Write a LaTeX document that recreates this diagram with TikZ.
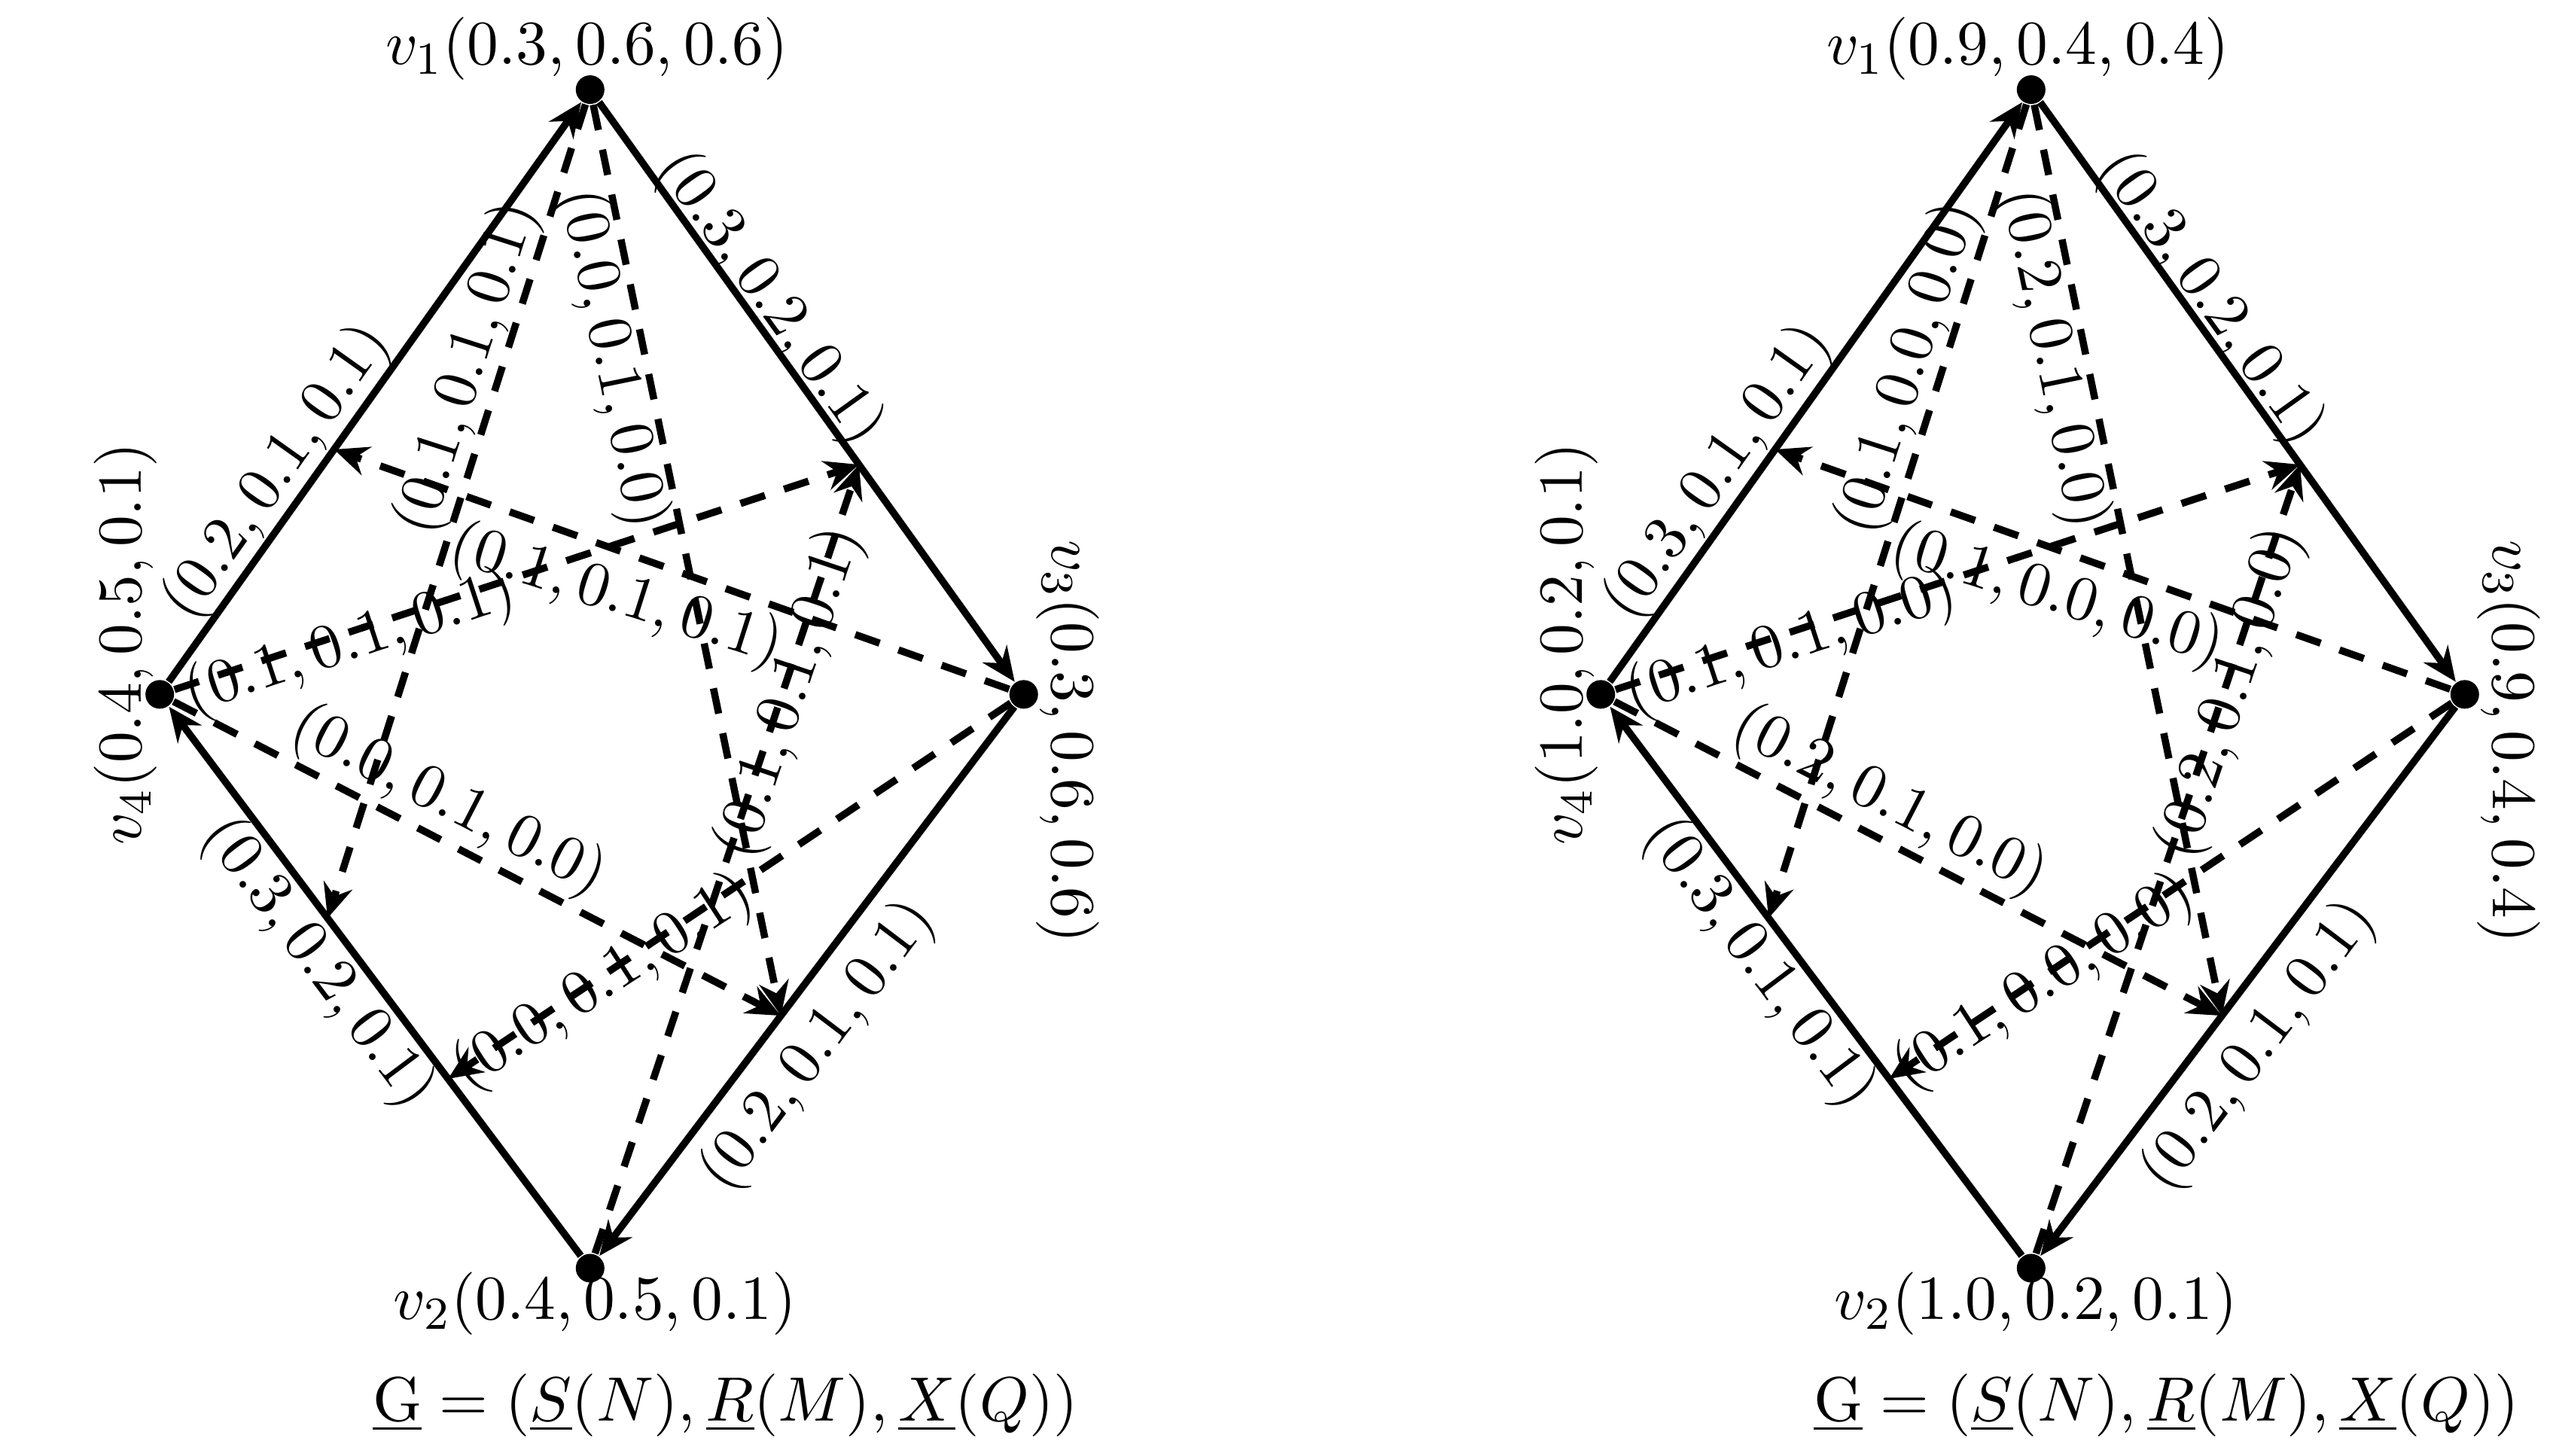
\documentclass[tikz,border=0pt]{standalone}
\usetikzlibrary{arrows.meta,calc}
\tikzset{
  vtx/.style={circle,fill,inner sep=0pt,minimum size=5pt},
  sol/.style={line width=1.25pt,-{Stealth[length=6pt,width=5.2pt,inset=2pt]}},
  dsh/.style={line width=1.25pt,dash pattern=on 4.5pt off 3.5pt,-{Stealth[length=6pt,width=5.2pt,inset=2pt]}},
  lab/.style={font=\fontsize{11}{13}\selectfont,inner sep=0pt}
}
\begin{document}
\begin{tikzpicture}
\useasboundingbox (0,0) rectangle (15.68,-8.93);
% ---------- left graph
\node[vtx] (a1) at (3.62,-0.55) {};
\node[vtx] (a2) at (3.62,-7.78) {};
\node[vtx] (a3) at (6.28,-4.26) {};
\node[vtx] (a4) at (0.98,-4.26) {};
\coordinate (ap41) at ($(a4)!0.405!(a1)$);
\coordinate (ap13) at ($(a1)!0.62!(a3)$);
\coordinate (ap42) at ($(a4)!0.39!(a2)$);
\coordinate (ap42b) at ($(a4)!0.67!(a2)$);
\coordinate (ap32) at ($(a3)!0.56!(a2)$);
\draw[sol] (a4) -- (a1);
\draw[sol] (a1) -- (a3);
\draw[sol] (a3) -- (a2);
\draw[sol] (a2) -- (a4);
\draw[dsh] (a1) -- (ap42);
\draw[dsh] (a1) -- (ap32);
\draw[dsh] (a3) -- (ap41);
\draw[dsh] (a4) -- (ap13);
\draw[dsh] (a4) -- (ap32);
\draw[dsh] (a3) -- (ap42b);
\draw[dsh] (a2) -- (ap13);
\node[lab] (aL1) at (3.60,-0.30) {$v_1(0.3,0.6,0.6)$};
\node[lab] (aL2) at (3.65,-8.00) {$v_2(0.4,0.5,0.1)$};
\node[lab,rotate=-90] (aL3) at (6.55,-4.55) {$v_3(0.3,0.6,0.6)$};
\node[lab,rotate=90] (aL4) at (0.77,-3.95) {$v_4(0.4,0.5,0.1)$};
\node[lab,rotate=54.6] (aE41) at (1.70,-2.90) {$(0.2,0.1,0.1)$};
\node[lab,rotate=-54.4] (aE13) at (4.72,-1.83) {$(0.3,0.2,0.1)$};
\node[lab,rotate=-53.1] (aE24) at (1.95,-5.91) {$(0.3,0.2,0.1)$};
\node[lab,rotate=52.9] (aE32) at (5.02,-6.42) {$(0.2,0.1,0.1)$};
\node[lab,rotate=72.2] (aD1) at (2.87,-2.26) {$(0.1,0.1,0.1)$};
\node[lab,rotate=-78.4] (aD2) at (3.75,-2.20) {$(0.0,0.1,0.0)$};
\node[lab,rotate=-17.6] (aD3) at (3.78,-3.66) {$(0.1,0.1,0.1)$};
\node[lab,rotate=18.2] (aD4) at (2.15,-3.95) {$(0.1,0.1,0.1)$};
\node[lab,rotate=-27.3] (aD5) at (2.75,-4.92) {$(0.0,0.1,0.0)$};
\node[lab,rotate=33] (aD6) at (3.70,-6.03) {$(0.0,0.1,0.1)$};
\node[lab,rotate=71.4] (aD7) at (4.85,-4.25) {$(0.1,0.1,0.1)$};
\node[lab] (aG) at (4.45,-8.62) {$\underline{\mathrm{G}}=(\underline{S}(N),\underline{R}(M),\underline{X}(Q))$};
% ---------- right graph
\begin{scope}[xshift=8.84cm]
\node[vtx] (b1) at (3.62,-0.55) {};
\node[vtx] (b2) at (3.62,-7.78) {};
\node[vtx] (b3) at (6.28,-4.26) {};
\node[vtx] (b4) at (0.98,-4.26) {};
\coordinate (bp41) at ($(b4)!0.405!(b1)$);
\coordinate (bp13) at ($(b1)!0.62!(b3)$);
\coordinate (bp42) at ($(b4)!0.39!(b2)$);
\coordinate (bp42b) at ($(b4)!0.67!(b2)$);
\coordinate (bp32) at ($(b3)!0.56!(b2)$);
\draw[sol] (b4) -- (b1);
\draw[sol] (b1) -- (b3);
\draw[sol] (b3) -- (b2);
\draw[sol] (b2) -- (b4);
\draw[dsh] (b1) -- (bp42);
\draw[dsh] (b1) -- (bp32);
\draw[dsh] (b3) -- (bp41);
\draw[dsh] (b4) -- (bp13);
\draw[dsh] (b4) -- (bp32);
\draw[dsh] (b3) -- (bp42b);
\draw[dsh] (b2) -- (bp13);
\node[lab] (bL1) at (3.60,-0.30) {$v_1(0.9,0.4,0.4)$};
\node[lab] (bL2) at (3.65,-8.00) {$v_2(1.0,0.2,0.1)$};
\node[lab,rotate=-90] (bL3) at (6.55,-4.55) {$v_3(0.9,0.4,0.4)$};
\node[lab,rotate=90] (bL4) at (0.77,-3.95) {$v_4(1.0,0.2,0.1)$};
\node[lab,rotate=54.6] (bE41) at (1.70,-2.90) {$(0.3,0.1,0.1)$};
\node[lab,rotate=-54.4] (bE13) at (4.72,-1.83) {$(0.3,0.2,0.1)$};
\node[lab,rotate=-53.1] (bE24) at (1.95,-5.91) {$(0.3,0.1,0.1)$};
\node[lab,rotate=52.9] (bE32) at (5.02,-6.42) {$(0.2,0.1,0.1)$};
\node[lab,rotate=72.2] (bD1) at (2.87,-2.26) {$(0.1,0.0,0.0)$};
\node[lab,rotate=-78.4] (bD2) at (3.75,-2.20) {$(0.2,0.1,0.0)$};
\node[lab,rotate=-17.6] (bD3) at (3.78,-3.66) {$(0.1,0.0,0.0)$};
\node[lab,rotate=18.2] (bD4) at (2.15,-3.95) {$(0.1,0.1,0.0)$};
\node[lab,rotate=-27.3] (bD5) at (2.75,-4.92) {$(0.2,0.1,0.0)$};
\node[lab,rotate=33] (bD6) at (3.70,-6.03) {$(0.1,0.0,0.0)$};
\node[lab,rotate=71.4] (bD7) at (4.85,-4.25) {$(0.2,0.1,0.0)$};
\node[lab] (bG) at (4.45,-8.62) {$\underline{\mathrm{G}}=(\underline{S}(N),\underline{R}(M),\underline{X}(Q))$};
\end{scope}
\end{tikzpicture}
\end{document}
